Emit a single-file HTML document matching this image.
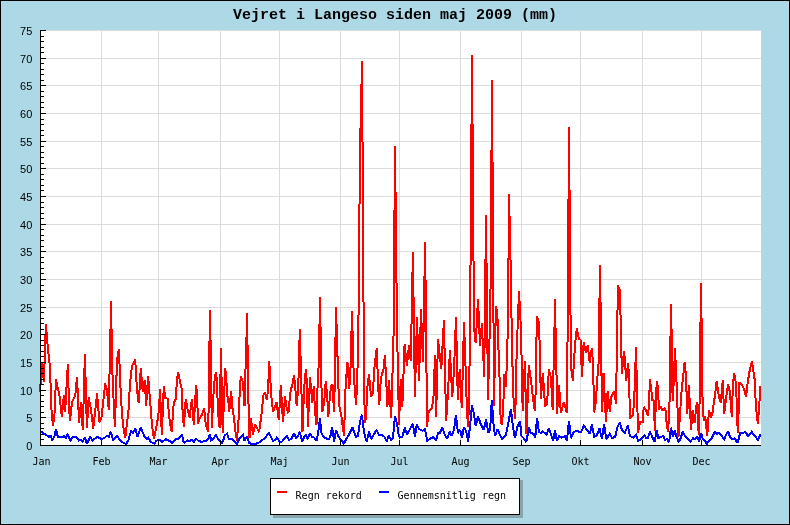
<!DOCTYPE html><html><head><meta charset="utf-8"><title>Vejret i Langeso</title><style>
html,body{margin:0;padding:0;background:#add8e6;}body{width:790px;height:525px;overflow:hidden;position:relative;font-family:"Liberation Sans",sans-serif;}
svg{position:absolute;left:0;top:0;display:block;will-change:transform}
.t{font-family:"Liberation Mono",monospace;font-weight:bold;font-size:15px;fill:#000}
.a{font-family:"DejaVu Sans Mono","Liberation Mono",monospace;font-size:10px;fill:#000}
.y{font-family:"Liberation Sans",sans-serif;font-size:11px;fill:#000}
.l{font-family:"DejaVu Sans Mono","Liberation Mono",monospace;font-size:10px;fill:#000}
</style></head><body>
<svg width="790" height="525" viewBox="0 0 790 525">
<rect x="0" y="0" width="790" height="525" fill="#add8e6"/>
<rect x="0.5" y="0.5" width="789" height="524" fill="none" stroke="#000" stroke-width="1"/>
<rect x="40" y="30" width="721" height="415" fill="#fff"/>
<path d="M40 417.5H761M40 390.5H761M40 362.5H761M40 334.5H761M40 307.5H761M40 279.5H761M40 251.5H761M40 224.5H761M40 196.5H761M40 168.5H761M40 141.5H761M40 113.5H761M40 85.5H761M40 58.5H761M40 30.5H761M101.5 30V445M158.5 30V445M220.5 30V445M279.5 30V445M340.5 30V445M399.5 30V445M460.5 30V445M521.5 30V445M580.5 30V445M642.5 30V445M701.5 30V445" stroke="#dcdcdc" stroke-width="1" fill="none" shape-rendering="crispEdges"/>
<clipPath id="c"><rect x="39" y="30" width="722" height="416"/></clipPath>
<g clip-path="url(#c)">
<polyline points="40,392 41.9,363 43.9,382 45.9,324 47.9,349 49.9,366 51.5,410 53,426 54.5,414 56,379 58,389 59.5,396 61.8,417 63.9,395 65.1,411.7 67.9,364 69,407 70,420.8 72,402 75.3,395.7 77,376.7 79.1,423 80.9,402.5 82.8,430 84.9,354 86.9,428.4 88.7,397.2 91,410 93.3,428.4 97.1,393.4 99.4,422.3 101.5,417 105.2,383.5 107,390 108.8,410 109.6,370 110.4,330 110.6,328 111,300.7 111.4,328 111.6,330 112.4,372 113,388 114.9,427 117,360 118.9,349.4 121,400 123,425 125.3,438 128.5,410 130,384 132,366 135.2,359.3 137,390 138.7,403.3 140.8,368.3 142.8,392 144.8,379.7 146.1,405.6 148.1,376 150,400 152,425 153.9,439 157,424 159,410 160,389 161.8,434.5 163.8,385.8 165.3,398 167.6,398.7 169.1,416 170.7,427 171.9,432.2 173,410 174,402.5 176,398.7 176.8,381 178,372 179.8,380.5 181.6,388.8 182.8,416 184,427 185.1,405.6 185.9,399.5 187.4,408.6 189.7,417.8 191.2,404 192,399.5 193.8,424.6 196.1,385 197.3,396.5 197.8,424 199.6,418.5 201.9,414.7 204.2,408.6 205.7,424 208.4,432.2 208.6,400 209.4,342 209.6,340 210,309.8 210.4,339 210.6,341 211.4,400 211.8,428.4 213.3,396.5 214.5,381.2 215.9,372 217.1,382.8 217.9,411.7 219.7,428.4 220.9,347.9 222.7,433 225.2,368 226.2,376.7 227,393.4 228.5,402.5 229.3,411.7 231.1,391 232.3,407 233.9,417.8 235.4,431.5 236.9,440.6 238.4,422.3 239.2,405.6 239.9,385.8 241,376 243,382.8 244.5,406.4 245.6,366 246.4,338 246.6,336 247,312.8 247.4,344 247.6,346 248.4,400 249.5,438.3 250.9,418.5 252.9,434.5 255.2,424.6 259,432.2 261.3,416 262.3,405.6 263.5,395 265,392.6 266.6,399.5 268.1,390.4 269.2,360.8 270.4,381.2 271.2,395 273,411.7 276.5,402.5 278.8,420 280.8,385 283,422.3 285,396.5 286.9,409.4 288.4,413.2 289.9,396.5 291,388.8 292.2,385.8 294,375 295.2,385.8 296,399.5 296.8,405.6 298.3,385.8 299.8,329.3 302.5,431.5 304.1,388.8 305.9,369 307.1,385.8 307.9,427 310,376.7 311.7,396.5 312.4,402.5 313.8,385.8 315,411.7 316.5,424.6 317.6,385 318.6,366 319.4,325 319.6,323 320,296.9 320.4,326 320.6,328 321.4,384.3 322.3,411.7 324.2,402.5 325.7,381.2 327.2,396.5 328.3,417 329.5,401 331,385.8 332.5,384.3 334,411.7 334.8,381.2 336,307 338.6,392 339.7,410 341,413 344,436 345.5,388.8 347.4,361.6 349.3,389 350.6,366 351.4,332 351.6,330 352,311.3 352.4,330 352.6,332 353.4,366 354.5,385 356.1,404.8 357.4,375 358.4,316 358.6,314 359.4,205 359.6,203 360.4,129 360.6,127 361.4,85 361.6,83 362,61 362.4,141 362.6,143 363.4,301 363.6,303 364.4,402 365.3,423 366.8,402.5 367.6,384.3 369,374.4 370.1,385.8 371,397 372.9,393.4 374.1,370.6 376.7,348 378.2,387.3 379.3,404.8 380.5,384.3 381.3,376.7 383.5,369 385,355 385.8,373.6 386.6,388.8 387.4,407 388.9,379.7 389.9,396.5 391.2,417.8 392.6,370 393.4,337 393.6,335 394.4,211 394.6,209 395,146 395.4,191 395.6,193 396.4,282 396.6,284 397.4,351 397.6,353 399,424.6 400.8,379 402.3,407 403.8,366 404.6,344 406.9,366 409,345 410.8,361 412.9,252 414.9,397.2 417,317.4 419,381.2 421,309 423,362 425.1,242.2 427.1,427 428.2,413.2 429.7,410 432,408.6 433.5,396.5 435,355.5 436.1,417 438,339.5 441.3,369 443.9,320.5 446.1,420.8 448,393.4 449.9,350 452.2,397.2 454,370 456,317.4 457.8,399.5 459.7,369 461.8,407.9 464,322.3 466,380 467,413.2 468.2,427 469.4,380 470.4,266 470.6,264 471.4,125 471.6,123 472,55 472.4,123 472.6,125 473.4,260 473.6,262 474.4,331 474.6,333 475.7,343.3 478,299 480,345.6 481.9,323.2 484.2,377.4 486,215.5 488,399.5 489.4,345 490.4,290 490.6,288 491.4,151 491.6,149 492,80 492.4,161 492.6,163 493.4,322 493.6,324 494,405.6 495.9,306 497.2,312 497.8,326 498.4,349 498.7,351 499.6,380 500.5,415 501.7,425.4 503,412 504.5,374 505.5,387 506.4,372 506.6,370 507.4,340 507.6,338 508.4,259 508.6,257 509,194 509.4,215 509.6,217 510.4,259 510.6,261 511.4,310 512,350 513.5,398 515,418.5 515.8,398 516.45,359 517.2,357 517.5,330 519,291 521,330 522.7,411 524.9,360.8 526.5,433.8 528.8,365 531,381 533,398 534.8,411 535.8,389 536.8,316.2 539,322 539.6,343 540.4,380 541,398.7 542.8,372.9 545.1,407 546.7,404 547.5,396 548.9,369 551,378 552.7,410 553.6,366 554.4,328 554.6,326 555,299 555.4,327 555.6,329 556.4,366 557,414.4 559.1,385 560.8,413 563.9,401.8 566.9,413 567.4,343 567.6,341 568.4,200 568.6,198 569,127.2 569.4,189 569.6,191 570.4,314 570.6,316 571.4,370 572.8,380.5 574.3,355.5 575.2,343.3 576.8,328 578.8,338.7 580.5,340 582,377.4 583.7,341.8 585.8,352.4 587.8,345 589.7,363 591.9,347.9 593,364.6 594.2,412.4 595.8,402 597,383 598.4,365 598.6,363 599.4,299 599.6,297 600.1,265 600.4,301 600.6,303 601.4,375 601.6,377 602.2,411.7 603.5,372.9 606,422.3 607.6,391 609.8,411.7 611.4,396.5 614.4,391 616,404 617.9,285.6 619.9,289.5 621.9,373.6 624,351 625,360 626.1,381.2 628.1,363 629,377 630,418.5 633,414.7 634.3,398 636,347 638,433 640,422 642.6,422 643.8,407 645.4,409 647.8,416 648.9,407 649.9,379.4 651.1,388.8 652.4,400 653.5,400.3 655,430.7 656,394 656.9,381.2 658,388.8 659,410 661,406.4 662.6,410.9 664.5,408.6 665.6,410.9 667,427 668.2,431.5 669.6,400 670.4,337 670.6,335 671,304 671.4,328 671.6,330 672.4,390 672.9,401.3 675,348.2 677,393.4 678.5,436.8 680,414.7 681.3,394.2 682.7,380.5 684.6,362.3 686,375 687.2,414 688.9,385 691,430 692.6,410 694.5,423 696.8,402.5 698.8,435.3 699.6,400 700.4,323 700.6,321 701,283 701.4,317 701.6,319 702.4,395 703.7,420.8 705.2,416 707.2,436 709,410 710.8,417.8 712.8,411.7 713.6,404 715.1,395 716.6,381.2 718.9,396.5 720.7,402.5 722.7,380.5 724.2,414 726.5,395 728,384.3 730,392.6 731.8,417 732.9,384.3 734.1,373.3 736.1,384.3 737.2,419.3 737.9,433 739.5,382 742.5,385.8 744.8,391 746,397.2 747.8,382 749.4,372 752,361.3 754.7,379.7 755.9,407 757.9,424 759.6,400 760,385.8" fill="none" stroke="#ff0000" stroke-width="2" stroke-linejoin="miter" stroke-miterlimit="2" shape-rendering="crispEdges"/>
<polyline points="41.1,431.5 43.0,433.0 46.9,435.3 49.1,436.8 50.7,435.7 52.2,440.6 54.5,436.0 56.0,429.2 58.0,437.3 62.8,437.3 64.4,436.0 65.9,438.3 67.9,433.8 68.9,437.6 70.5,440.6 72.7,437.3 76.5,436.8 78.8,440.6 80.4,439.9 82.6,441.4 84.9,437.6 86.9,443.7 90.3,436.8 92.5,440.6 97.1,436.8 100.9,438.8 104.0,438.3 107.0,435.7 108.8,436.8 110.8,431.8 113.1,440.6 116.9,435.7 119.2,439.1 122.2,442.1 126.0,444.0 128.3,440.6 131.1,430.7 132.9,433.0 135.2,428.4 137.5,436.8 140.8,427.7 144.3,436.0 146.6,439.1 148.4,437.6 150.4,441.4 154.2,443.7 156.5,440.6 160.0,439.9 161.5,442.1 163.8,440.6 166.1,439.1 168.4,440.6 170.7,441.4 172.2,442.9 174.5,440.6 176.0,439.1 178.3,438.8 179.8,436.8 182.1,434.8 183.1,440.6 184.4,442.9 187.4,440.3 189.7,440.9 191.7,439.9 193.8,442.1 196.1,438.8 198.1,440.6 201.9,442.1 204.2,440.9 206.4,440.6 208.7,438.3 209.9,433.8 211.0,440.6 213.3,439.1 215.9,434.5 217.9,439.1 220.1,440.6 221.7,443.7 223.2,440.6 224.7,435.3 227.0,433.8 228.8,439.1 231.6,438.8 234.6,441.4 236.9,443.7 239.2,439.1 243.0,435.3 244.5,440.6 246.8,436.4 249.1,442.9 251.4,444.0 255.9,443.7 259.7,442.1 263.5,439.1 266.6,436.0 268.9,432.7 271.2,437.6 273.0,440.6 275.0,440.3 276.9,437.6 278.8,440.6 280.0,442.1 282.3,441.4 284.6,438.3 286.9,436.4 289.1,439.9 291.4,439.1 294.0,433.0 296.0,437.6 298.3,435.3 299.8,431.8 302.1,441.4 304.4,436.8 305.9,435.3 307.9,439.1 310.0,433.0 312.0,436.8 314.3,437.6 316.5,440.6 318.1,433.0 319.9,418.5 321.4,433.0 323.4,436.8 325.7,438.3 328.7,439.1 330.3,436.8 332.1,426.9 334.1,441.4 336.0,430.0 337.9,435.3 340.1,439.1 341.7,440.6 344.0,444.0 346.2,439.1 348.5,435.3 350.8,430.7 352.3,426.9 353.9,431.5 356.1,436.8 358.0,436.0 359.9,422.3 361.8,414.7 363.4,426.9 365.0,436.8 366.8,441.4 369.1,431.5 371.1,439.1 373.7,434.5 376.7,430.0 379.0,435.3 382.0,435.3 384.3,436.8 386.6,441.4 388.9,435.3 391.2,440.6 393.0,437.6 395.0,416.3 396.9,423.1 398.8,436.0 400.0,437.6 402.3,436.8 404.9,427.7 406.9,434.5 409.1,430.7 412.9,423.9 414.9,436.8 416.8,424.6 419.0,429.2 422.8,430.7 425.1,429.2 427.1,440.6 429.7,439.1 433.5,436.8 436.1,440.6 438.1,433.0 439.9,433.0 442.3,427.7 444.9,435.3 447.2,438.3 449.9,431.5 451.8,436.0 454.1,429.2 456.0,414.7 457.9,433.0 460.1,430.0 462.0,437.6 464.0,426.9 466.2,431.5 468.1,441.4 470.0,426.9 471.9,405.6 473.9,413.2 475.7,426.1 478.0,416.3 480.7,423.9 483.8,430.0 486.0,419.3 488.3,433.0 490.1,430.0 491.8,400.3 493.7,426.9 495.2,436.0 497.5,429.2 499.7,434.5 502.0,439.1 505.8,435.3 508.1,423.9 510.9,409.4 513.0,426.9 515.0,438.3 517.3,426.9 520.0,421.6 521.5,436.0 523.8,438.3 526.4,442.1 528.8,427.7 530.7,433.0 533.7,433.8 535.2,437.6 537.1,418.5 539.0,432.2 541.3,432.7 542.8,431.5 546.6,434.5 548.9,428.4 551.2,435.3 553.2,440.6 555.0,430.0 556.9,440.6 559.3,436.0 561.9,437.6 564.9,436.0 566.9,440.6 569.0,420.8 571.0,438.3 573.3,433.0 576.0,430.7 578.6,431.5 580.9,432.2 584.0,425.7 587.0,430.0 590.0,433.8 591.9,424.6 594.2,436.8 596.9,435.3 599.5,428.4 601.9,439.1 604.1,424.6 606.3,439.1 609.8,433.8 612.1,438.3 615.2,436.8 617.5,426.9 619.7,422.6 622.0,430.0 624.8,433.0 627.8,425.7 629.9,436.0 633.4,437.6 636.0,434.8 638.0,440.6 640.0,440.3 644.3,435.3 646.3,438.3 648.1,437.6 649.9,431.8 651.9,436.0 654.5,442.1 656.8,430.0 658.4,438.3 661.0,436.8 663.3,436.0 664.8,439.9 667.1,439.1 669.1,442.1 670.9,427.7 672.9,436.8 674.7,430.7 676.7,437.6 678.9,442.1 680.8,437.6 682.8,431.8 684.9,436.0 687.7,438.8 690.4,441.4 693.0,438.3 695.3,439.1 697.1,436.0 699.1,442.1 701.1,433.0 702.9,439.1 704.7,440.6 707.0,444.0 709.0,440.6 712.0,437.6 714.8,432.2 716.9,433.8 718.9,432.7 721.2,435.3 724.2,439.1 726.5,433.8 728.3,431.5 730.0,437.3 732.6,439.1 734.6,438.3 737.6,442.9 740.2,433.0 743.3,433.0 745.5,431.8 748.1,436.4 751.6,431.8 753.9,435.3 756.2,437.6 758.0,440.6 760.0,435.3 762.0,434.5" fill="none" stroke="#0000ff" stroke-width="2" stroke-linejoin="miter" stroke-miterlimit="2" shape-rendering="crispEdges"/>
</g>
<path d="M40.5 30V446M40 445.5H761M40 445.5h6M40 439.5h4M40 434.5h4M40 428.5h4M40 423.5h4M40 417.5h6M40 412.5h4M40 406.5h4M40 401.5h4M40 395.5h4M40 390.5h6M40 384.5h4M40 379.5h4M40 373.5h4M40 368.5h4M40 362.5h6M40 356.5h4M40 351.5h4M40 345.5h4M40 340.5h4M40 334.5h6M40 329.5h4M40 323.5h4M40 318.5h4M40 312.5h4M40 307.5h6M40 301.5h4M40 296.5h4M40 290.5h4M40 285.5h4M40 279.5h6M40 273.5h4M40 268.5h4M40 262.5h4M40 257.5h4M40 251.5h6M40 246.5h4M40 240.5h4M40 235.5h4M40 229.5h4M40 224.5h6M40 218.5h4M40 213.5h4M40 207.5h4M40 202.5h4M40 196.5h6M40 190.5h4M40 185.5h4M40 179.5h4M40 174.5h4M40 168.5h6M40 163.5h4M40 157.5h4M40 152.5h4M40 146.5h4M40 141.5h6M40 135.5h4M40 130.5h4M40 124.5h4M40 119.5h4M40 113.5h6M40 107.5h4M40 102.5h4M40 96.5h4M40 91.5h4M40 85.5h6M40 80.5h4M40 74.5h4M40 69.5h4M40 63.5h4M40 58.5h6M40 52.5h4M40 47.5h4M40 41.5h4M40 36.5h4M40 30.5h6M101.5 445v-5M158.5 445v-5M220.5 445v-5M279.5 445v-5M340.5 445v-5M399.5 445v-5M460.5 445v-5M521.5 445v-5M580.5 445v-5M642.5 445v-5M701.5 445v-5" stroke="#000" stroke-width="1" fill="none" shape-rendering="crispEdges"/>
<text class="y" x="32.3" y="450" text-anchor="end">0</text>
<text class="y" x="32.3" y="422" text-anchor="end">5</text>
<text class="y" x="32.3" y="395" text-anchor="end">10</text>
<text class="y" x="32.3" y="367" text-anchor="end">15</text>
<text class="y" x="32.3" y="339" text-anchor="end">20</text>
<text class="y" x="32.3" y="312" text-anchor="end">25</text>
<text class="y" x="32.3" y="284" text-anchor="end">30</text>
<text class="y" x="32.3" y="256" text-anchor="end">35</text>
<text class="y" x="32.3" y="229" text-anchor="end">40</text>
<text class="y" x="32.3" y="201" text-anchor="end">45</text>
<text class="y" x="32.3" y="173" text-anchor="end">50</text>
<text class="y" x="32.3" y="146" text-anchor="end">55</text>
<text class="y" x="32.3" y="118" text-anchor="end">60</text>
<text class="y" x="32.3" y="90" text-anchor="end">65</text>
<text class="y" x="32.3" y="63" text-anchor="end">70</text>
<text class="y" x="32.3" y="35" text-anchor="end">75</text>
<text class="a" x="41.5" y="465" text-anchor="middle">Jan</text>
<text class="a" x="101.5" y="465" text-anchor="middle">Feb</text>
<text class="a" x="158.5" y="465" text-anchor="middle">Mar</text>
<text class="a" x="220.5" y="465" text-anchor="middle">Apr</text>
<text class="a" x="279.5" y="465" text-anchor="middle">Maj</text>
<text class="a" x="340.5" y="465" text-anchor="middle">Jun</text>
<text class="a" x="399.5" y="465" text-anchor="middle">Jul</text>
<text class="a" x="460.5" y="465" text-anchor="middle">Aug</text>
<text class="a" x="521.5" y="465" text-anchor="middle">Sep</text>
<text class="a" x="580.5" y="465" text-anchor="middle">Okt</text>
<text class="a" x="642.5" y="465" text-anchor="middle">Nov</text>
<text class="a" x="701.5" y="465" text-anchor="middle">Dec</text>
<text class="t" x="395" y="19" text-anchor="middle">Vejret i Langeso siden maj 2009 (mm)</text>
<rect x="273" y="480" width="250" height="38" fill="#8aa4ad"/>
<rect x="270.5" y="478.5" width="249" height="36" fill="#fff" stroke="#000" stroke-width="1"/>
<rect x="277" y="491" width="10" height="2" fill="#f00"/>
<rect x="379" y="491" width="10" height="2" fill="#00f"/>
<text class="l" x="295.6" y="499">Regn rekord</text>
<text class="l" x="397.6" y="499">Gennemsnitlig regn</text>
</svg></body></html>
